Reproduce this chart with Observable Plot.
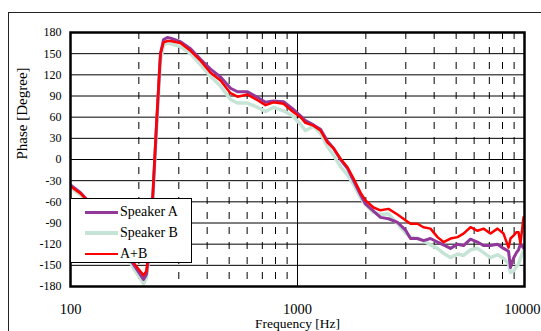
<!DOCTYPE html>
<html>
<head>
<meta charset="utf-8">
<script src="https://cdn.jsdelivr.net/npm/d3@7"></script>
<script src="https://cdn.jsdelivr.net/npm/@observablehq/plot@0.6"></script>
<style>
  html, body { margin: 0; padding: 0; background: #fff; }
  #wrap { position: relative; width: 541px; height: 331px; overflow: hidden; font-family: "Liberation Serif", "Times New Roman", serif; }
  #outer { position: absolute; left: 8px; top: 12px; width: 600px; height: 400px; border-left: 1.5px solid #222; border-top: 1.5px solid #222; }
  #chart { position: absolute; left: 0; top: 0; }
  #legend { position: absolute; left: 70px; top: 198px; width: 122px; height: 65px; border: 1px solid #000; background: #fff; box-sizing: border-box; }
  .row { position: absolute; left: 14px; height: 20px; display: flex; align-items: center; font-size: 14px; color: #000; }
  .sw { width: 33px; margin-right: 2px; }
</style>
</head>
<body>
<div id="wrap">
  <div id="outer"></div>
  <div id="chart"></div>
  <div id="legend"></div>
</div>
<script>
// Frequency grid (Hz)
const freq = [100,110.7,128.9,150,174.7,193.3,209.7,216,223,230,239,249,257,267,276,305,338,374,414,458,507,544,602,667,723,784,868,951,1031,1084,1176,1263,1356,1441,1547,1661,1765,1895,1993,2162,2321,2517,2757,2991,3146,3378,3589,3854,4137,4398,4721,5068,5386,5782,6209,6599,7084,7604,8082,8504,8677,8944,9220,9410,9600,9900];
// Phase (degree) for each series
const phaseA  = [-36,-47,-70,-100,-132,-153,-170,-163,-125,-58,45,150,170,173,172,167,157,142,128,117,101,96,96,88,81,83,82,72,62,55,49,43,26,16,0,-13,-30,-50,-63,-73,-82,-84,-89,-100,-112,-112,-115,-112,-117,-121,-126,-120,-122,-113,-117,-122,-122,-120,-126,-130,-153,-140,-132,-128,-120,-125];
const phaseB  = [-40,-50,-73,-104,-136,-158,-176,-168,-130,-62,40,140,162,165,164,160,150,134,118,104,85,80,80,74,68,74,69,62,50,41,47,37,18,6,-10,-22,-35,-54,-64,-75,-78,-77,-91,-104,-110,-112,-115,-121,-126,-133,-139,-134,-136,-128,-126,-132,-139,-135,-140,-148,-160,-158,-152,-148,-140,-129];
const phaseAB = [-38,-48,-70,-100,-130,-150,-164,-158,-120,-55,50,150,166,168,168,165,154,140,123,112,94,89,92,84,77,81,79,68,60,52,48,41,24,16,1,-11,-27,-47,-58,-68,-72,-70,-78,-86,-91,-91,-96,-98,-110,-117,-112,-110,-105,-96,-101,-98,-105,-98,-105,-125,-112,-108,-103,-103,-119,-82];

const seriesNames = ["Speaker A", "Speaker B", "A+B"];
const seriesColors = ["#93389b", "#c6e4d6", "#ff0000"];
const seriesWidths = [3, 3.5, 2.5];

const xTicks = [100, 1000];
const xLastTick = [10000];
const xMinor = [200,300,400,500,600,700,800,900,2000,3000,4000,5000,6000,7000,8000,9000];
const yTicks = [-180,-150,-120,-90,-60,-30,0,30,60,90,120,150,180];

const rows = (vals) => freq.map((f, i) => ({f, p: vals[i]}));
const dataA = rows(phaseA), dataB = rows(phaseB), dataAB = rows(phaseAB);

const plot = Plot.plot({
  width: 541,
  height: 331,
  marginLeft: 70,
  marginRight: 17,
  marginTop: 32,
  marginBottom: 45,
  style: {fontFamily: '"Liberation Serif", "Times New Roman", serif', background: "transparent", overflow: "visible"},
  x: {type: "log", domain: [100, 10000]},
  y: {domain: [-180, 180]},
  marks: [
    Plot.ruleY(yTicks, {stroke: "#000", strokeWidth: 1}),
    Plot.ruleX(xMinor, {stroke: "#000", strokeWidth: 1, strokeDasharray: "7,8"}),
    Plot.ruleX([1000], {stroke: "#000", strokeWidth: 1}),
    Plot.line(dataB, {x: "f", y: "p", stroke: seriesColors[1], strokeWidth: seriesWidths[1], clip: true}),
    Plot.line(dataA, {x: "f", y: "p", stroke: seriesColors[0], strokeWidth: seriesWidths[0], clip: true}),
    Plot.line(dataAB, {x: "f", y: "p", stroke: seriesColors[2], strokeWidth: seriesWidths[2], clip: true}),
    Plot.frame({stroke: "#000", strokeWidth: 2.5}),
    Plot.axisX({ticks: xTicks, tickFormat: d => String(d), tickSize: 0, tickPadding: 17, fontSize: 14.5, label: null}),
    Plot.text(xLastTick, {x: d => d, frameAnchor: "bottom", text: d => String(d), textAnchor: "end", dx: 16, dy: 23, fontSize: 14.5, lineAnchor: "middle", fill: "#000"}),
    Plot.axisY({ticks: yTicks, tickFormat: d => String(d), tickSize: 0, tickPadding: 9, fontSize: 12, label: null}),
    Plot.text(["Frequency [Hz]"], {frameAnchor: "bottom", dy: 37, fontSize: 13.5, lineAnchor: "middle", fill: "#000"}),
    Plot.text(["Phase [Degree]"], {frameAnchor: "left", dx: -48, rotate: -90, fontSize: 15, lineAnchor: "middle", fill: "#000"})
  ]
});
document.getElementById("chart").appendChild(plot);

// Legend
const legend = document.getElementById("legend");
const rowTops = [3, 24, 45];
seriesNames.forEach((name, i) => {
  const r = document.createElement("div");
  r.className = "row";
  r.style.top = rowTops[i] + "px";
  const sw = document.createElement("div");
  sw.className = "sw";
  sw.style.height = seriesWidths[i] + "px";
  sw.style.background = seriesColors[i];
  const t = document.createElement("span");
  t.textContent = name;
  r.appendChild(sw);
  r.appendChild(t);
  legend.appendChild(r);
});
</script>
</body>
</html>
